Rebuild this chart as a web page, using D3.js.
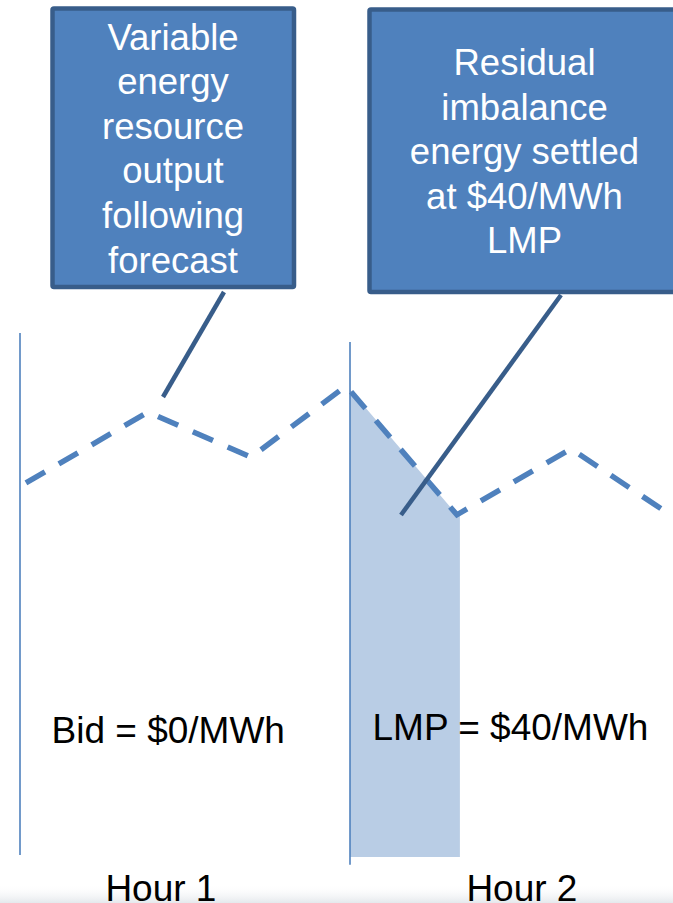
<!DOCTYPE html>
<html>
<head>
<meta charset="utf-8">
<script src="https://cdn.jsdelivr.net/npm/d3@7"></script>
<style>
  html, body { margin: 0; padding: 0; background: #ffffff; overflow: hidden; }
  svg { display: block; }
  text { font-family: "Liberation Sans", Arial, sans-serif; }
</style>
</head>
<body>
<svg id="chart" width="673" height="903"></svg>
<script>
// ---------- data ----------
// time axis in hours (0 = start of Hour 1, 1 = start of Hour 2)
const outputTime  = [0.018, 0.388, 0.700, 0.988, 1.324, 1.670, 1.980];
const outputValue = [71.4, 84.9, 76.3, 89.9, 65.3, 77.9, 64.9];   // variable resource output (relative MW)

const imbalanceTime  = [1.000, 1.324, 1.333];
const imbalanceValue = [89.2, 65.3, 65.3];                          // residual imbalance shading

const hourStarts    = [0, 1];
const boundaryTop   = [100, 98.3];
const boundaryBottom = [0.4, -1.5];

const hourLabels  = ["Hour 1", "Hour 2"];
const priceLabels = ["Bid = $0/MWh", "LMP = $40/MWh"];

const callout1Lines = ["Variable", "energy", "resource", "output", "following", "forecast"];
const callout2Lines = ["Residual", "imbalance", "energy settled", "at $40/MWh", "LMP"];

// ---------- scales ----------
const svg = d3.select("#chart");
const x = d3.scaleLinear().domain([0, 1]).range([20, 350]);
const y = d3.scaleLinear().domain([0, 100]).range([857, 333]);

const blue = "#4f81bd", dark = "#385d8a", light = "#b9cde5";

// bottom soft shadow
const defs = svg.append("defs");
const grad = defs.append("linearGradient").attr("id", "shade").attr("x1", 0).attr("y1", 0).attr("x2", 0).attr("y2", 1);
grad.append("stop").attr("offset", "0%").attr("stop-color", "#ffffff").attr("stop-opacity", 0);
grad.append("stop").attr("offset", "100%").attr("stop-color", "#e4e8ec").attr("stop-opacity", 1);
svg.append("rect").attr("x", 0).attr("y", 884).attr("width", 673).attr("height", 19).attr("fill", "url(#shade)");

// ---------- imbalance area ----------
const areaData = imbalanceTime.map((t, i) => ({t, v: imbalanceValue[i]}));
svg.append("path")
  .datum(areaData)
  .attr("fill", light)
  .attr("d", d3.area().x(d => x(d.t)).y0(y(0)).y1(d => y(d.v)));

// ---------- hour boundaries ----------
svg.selectAll("line.boundary")
  .data(hourStarts)
  .join("line")
  .attr("class", "boundary")
  .attr("x1", d => x(d)).attr("x2", d => x(d))
  .attr("y1", (d, i) => y(boundaryTop[i]))
  .attr("y2", (d, i) => y(boundaryBottom[i]))
  .attr("stroke", blue).attr("stroke-width", 1.6);

// ---------- output line (dashed) ----------
const lineData = outputTime.map((t, i) => ({t, v: outputValue[i]}));
svg.append("path")
  .datum(lineData)
  .attr("fill", "none")
  .attr("stroke", blue)
  .attr("stroke-width", 5.5)
  .attr("stroke-dasharray", "22,16")
  .attr("d", d3.line().x(d => x(d.t)).y(d => y(d.v)));

// ---------- callout connectors ----------
const connectors = [
  {x1: 224, y1: 292, x2: 163, y2: 397},
  {x1: 561, y1: 295, x2: 401, y2: 515}
];
svg.selectAll("line.conn")
  .data(connectors)
  .join("line")
  .attr("class", "conn")
  .attr("x1", d => d.x1).attr("y1", d => d.y1)
  .attr("x2", d => d.x2).attr("y2", d => d.y2)
  .attr("stroke", dark).attr("stroke-width", 4.5);

// ---------- callout boxes ----------
const boxes = [
  {x: 52.5, y: 8.5, w: 241.5, h: 278.5, cx: 173, first: 49.5, lines: callout1Lines},
  {x: 369.5, y: 9.5, w: 320, h: 282.5, cx: 524.5, first: 75, lines: callout2Lines}
];
boxes.forEach(b => {
  svg.append("rect")
    .attr("x", b.x).attr("y", b.y).attr("width", b.w).attr("height", b.h)
    .attr("fill", blue).attr("stroke", dark).attr("stroke-width", 4.5).attr("rx", 1.5);
  svg.append("g").selectAll("text")
    .data(b.lines)
    .join("text")
    .attr("x", b.cx)
    .attr("y", (d, i) => b.first + i * 44.6)
    .attr("text-anchor", "middle")
    .attr("fill", "#ffffff")
    .attr("font-size", "36.5px")
    .text(d => d);
});

// ---------- price labels ----------
svg.append("text").attr("x", 51.5).attr("y", 743).attr("font-size", "37px").attr("fill", "#000").text(priceLabels[0]);
svg.append("text").attr("x", 372.5).attr("y", 740).attr("font-size", "37px").attr("fill", "#000").text(priceLabels[1]);

// ---------- hour labels ----------
svg.selectAll("text.hour")
  .data(hourLabels)
  .join("text")
  .attr("class", "hour")
  .attr("x", (d, i) => x(hourStarts[i] + [0.427, 0.521][i]))
  .attr("y", 901)
  .attr("text-anchor", "middle")
  .attr("font-size", "37px")
  .attr("fill", "#000")
  .text(d => d);
</script>
</body>
</html>
